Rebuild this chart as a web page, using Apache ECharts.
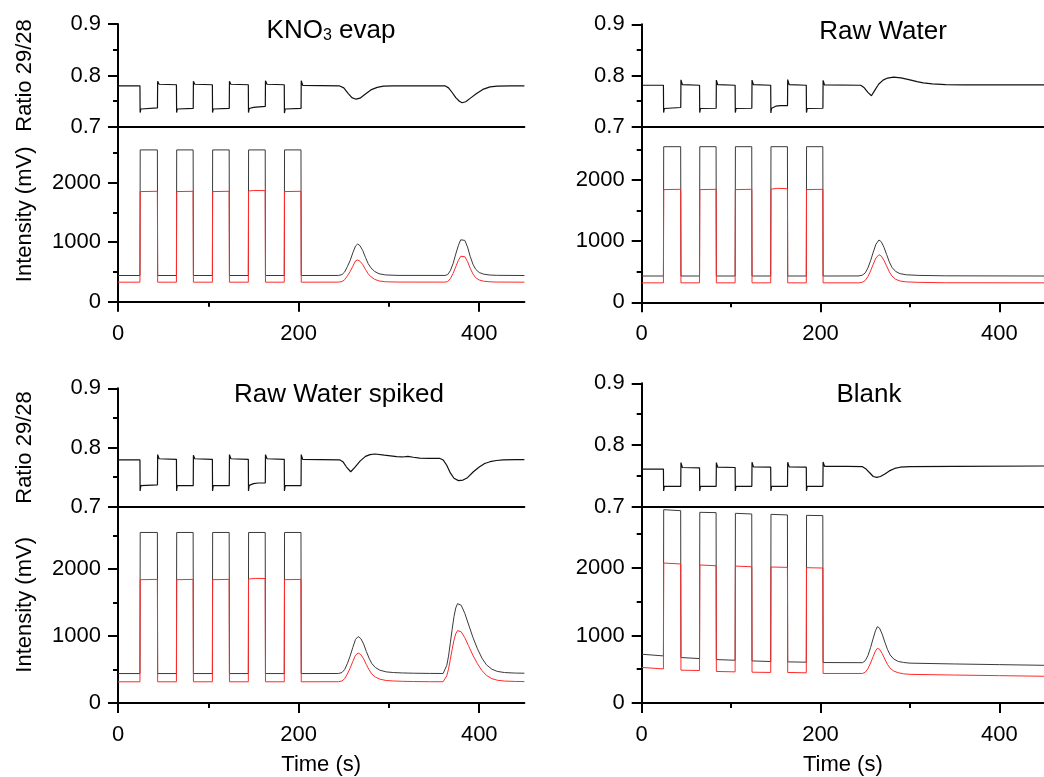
<!DOCTYPE html>
<html>
<head>
<meta charset="utf-8">
<script src="https://cdn.jsdelivr.net/npm/echarts@6/dist/echarts.min.js"></script>
<style>
html, body { margin: 0; padding: 0; background: #fff; }
#chart { width: 1044px; height: 777px; }
</style>
</head>
<body>
<div id="chart"></div>
<script>
// ---- tick values ----
const timeTicks = [0, 200, 400];
const timeMinor = [100, 300];
const ratioTicks = [0.7, 0.8, 0.9];
const ratioMinor = [0.75, 0.85];
const intTicks = [0, 1000, 2000];
const intMinor = [500, 1500, 2500];

// ---- KNO3 evap ----
const knoRatio = [
  [0,0.780],[24.3,0.780],[24.5,0.728],[25.3,0.735],[43.7,0.737],[43.9,0.789],[45.5,0.783],
  [64.7,0.782],[64.9,0.728],[65.7,0.735],[83.3,0.736],[83.5,0.789],[85,0.783],
  [104.5,0.782],[104.7,0.728],[105.5,0.735],[123.2,0.736],[123.4,0.789],[125,0.783],
  [144.3,0.782],[144.5,0.728],[145.3,0.736],[150,0.738],[163.1,0.740],[163.3,0.790],[165,0.783],
  [184.1,0.782],[184.3,0.727],[185.1,0.735],[202.7,0.736],[202.9,0.790],[204.5,0.781],
  [245,0.780],[250,0.776],[255,0.765],[259,0.757],[263.5,0.754],[268,0.756],[274,0.764],
  [280,0.772],[287,0.777],[294,0.7795],[305,0.780],[362,0.780],[366,0.776],[370,0.767],
  [374,0.757],[378,0.750],[381,0.747],[385,0.749],[391,0.757],[397,0.765],[404,0.773],
  [412,0.778],[420,0.7795],[435,0.780],[450,0.780]
];
const knoI28 = [
  [0,440],[24.3,440],[24.6,2550],[43.6,2550],[43.9,440],
  [64.7,440],[65,2550],[83.2,2550],[83.5,440],
  [104.5,440],[104.8,2550],[123.1,2550],[123.4,440],
  [144.3,440],[144.6,2550],[163,2550],[163.3,440],
  [184.1,440],[184.4,2550],[202.6,2550],[202.9,440],
  [244,441],[248,455],[251,500],[254,590],[257,690],[260,820],[263,935],[265.4,970],[268,940],
  [271,860],[274,745],[277,640],[280,570],[284,510],[289,470],[296,450],[310,442],
  [362,441],[365,455],[368,520],[371,640],[374,800],[377,950],[379.5,1040],[381,1062],[384,1030],
  [387,920],[390,760],[393,630],[396,545],[400,490],[405,462],[412,448],[420,443],[450,440]
];
const knoI29 = [
  [0,328],[24.3,328],[24.6,1850],[26,1855],[43.6,1855],[43.9,328],
  [64.7,328],[65,1850],[66.4,1855],[83.2,1855],[83.5,328],
  [104.5,328],[104.8,1850],[106.2,1855],[123.1,1855],[123.4,328],
  [144.3,328],[144.6,1860],[150,1868],[163,1866],[163.3,328],
  [184.1,328],[184.4,1850],[185.8,1855],[202.6,1855],[202.9,328],
  [244,329],[248,338],[251,370],[254,434],[257,504],[260,595],[263,686],[265.4,701],[268,680],
  [271,624],[274,543],[277,469],[280,420],[284,377],[289,349],[296,335],[310,330],
  [362,329],[365,339],[368,386],[371,473],[374,589],[377,698],[379.5,763],[381,780],[384,757],
  [387,677],[390,561],[393,466],[396,404],[400,364],[405,344],[412,334],[420,330],[450,328]
];

// ---- Raw Water ----
const rawRatio = [
  [0,0.781],[24.3,0.781],[24.5,0.7275],[25.3,0.7355],[43.7,0.7375],[43.9,0.7915],[45.5,0.782],
  [64.7,0.781],[64.9,0.7275],[65.7,0.7355],[83.3,0.736],[83.5,0.791],[85,0.782],
  [104.5,0.781],[104.7,0.7275],[105.5,0.7355],[123.2,0.736],[123.4,0.791],[125,0.782],
  [144.3,0.781],[144.5,0.727],[145.3,0.736],[150,0.740],[155,0.741],[163.1,0.741],[163.3,0.792],[165,0.782],
  [184.1,0.781],[184.3,0.7275],[185.1,0.7355],[202.7,0.736],[202.9,0.7905],[204.5,0.7815],
  [245,0.781],[249,0.776],[253,0.767],[257,0.7605],[261,0.772],[265,0.783],[270,0.791],
  [275,0.795],[281.8,0.797],[290,0.7955],[300,0.7915],[308,0.788],[315,0.7855],[325,0.7835],
  [340,0.782],[360,0.7815],[450,0.7815]
];
const rawI28 = [
  [0,430],[24.3,430],[24.6,2545],[43.6,2545],[43.9,430],
  [64.7,430],[65,2545],[83.2,2545],[83.5,430],
  [104.5,430],[104.8,2545],[123.1,2545],[123.4,430],
  [144.3,430],[144.6,2545],[163,2545],[163.3,430],
  [184.1,430],[184.4,2545],[202.6,2545],[202.9,430],
  [243,431],[247,445],[250,480],[253,560],[256,680],[259,820],[262,950],[265.4,1019],[268,990],
  [271,900],[274,780],[277,660],[280,570],[284,505],[289,468],[296,450],[310,440],[340,433],[450,430]
];
const rawI29 = [
  [0,318],[24.3,318],[24.6,1843],[26,1848],[43.6,1848],[43.9,318],
  [64.7,318],[65,1843],[66.4,1848],[83.2,1848],[83.5,318],
  [104.5,318],[104.8,1843],[106.2,1848],[123.1,1848],[123.4,318],
  [144.3,318],[144.6,1850],[152,1864],[163,1858],[163.3,318],
  [184.1,318],[184.4,1843],[185.8,1848],[202.6,1848],[202.9,318],
  [243,318],[247,329],[250,356],[253,419],[256,513],[259,622],[262,724],[265.4,779],[268,756],
  [271,686],[274,592],[277,498],[280,428],[284,377],[289,348],[296,334],[310,326],[340,320],[450,318]
];

// ---- Raw Water spiked ----
const spkRatio = [
  [0,0.779],[24.3,0.779],[24.5,0.7265],[25.3,0.7355],[43.7,0.737],[43.9,0.788],[45.5,0.781],
  [64.7,0.780],[64.9,0.7265],[65.7,0.7355],[83.3,0.7355],[83.5,0.787],[85,0.781],
  [104.5,0.780],[104.7,0.7265],[105.5,0.7355],[123.2,0.7355],[123.4,0.788],[125,0.781],
  [144.3,0.780],[144.5,0.7265],[145.3,0.736],[150,0.739],[155,0.740],[163.1,0.740],[163.3,0.788],[165,0.781],
  [184.1,0.780],[184.3,0.7265],[185.1,0.7355],[202.7,0.7355],[202.9,0.788],[204.5,0.780],
  [245.8,0.779],[249,0.776],[253,0.767],[257.7,0.759],[262,0.766],[268,0.777],[274,0.785],
  [279,0.788],[284.6,0.789],[295,0.787],[308.6,0.7845],[315,0.784],[321,0.785],[327,0.7835],
  [334,0.782],[345,0.7815],[356.6,0.7815],[360,0.779],[364,0.770],[368,0.757],[372,0.748],
  [377,0.744],[382,0.745],[387,0.749],[393.5,0.759],[400,0.767],[406,0.773],[412,0.776],
  [419,0.778],[426.5,0.779],[440,0.7795],[450,0.7795]
];
const spkI28 = [
  [0,440],[24.3,440],[24.6,2548],[43.6,2548],[43.9,440],
  [64.7,440],[65,2548],[83.2,2548],[83.5,440],
  [104.5,440],[104.8,2548],[123.1,2548],[123.4,440],
  [144.3,440],[144.6,2548],[163,2548],[163.3,440],
  [184.1,440],[184.4,2548],[202.6,2548],[202.9,440],
  [244,441],[248,455],[251,500],[254,590],[257,700],[260,830],[263,950],[266,993],[269,960],
  [272,880],[275,770],[278,670],[281,590],[285,530],[290,490],[297,465],[305,455],[315,449],
  [327,445],[345,442],[360,441],[362,470],[364,560],[366,700],[368,900],[370,1100],[372,1290],
  [374,1420],[376,1485],[377.5,1492],[380,1460],[384,1340],[388,1180],[393,980],[398,810],
  [403,670],[408,570],[414,505],[420,472],[428,455],[440,447],[450,445]
];
const spkI29 = [
  [0,317],[24.3,317],[24.6,1842],[26,1847],[43.6,1847],[43.9,317],
  [64.7,317],[65,1842],[66.4,1847],[83.2,1847],[83.5,317],
  [104.5,317],[104.8,1842],[106.2,1847],[123.1,1847],[123.4,317],
  [144.3,317],[144.6,1852],[152,1862],[163,1860],[163.3,317],
  [184.1,317],[184.4,1842],[185.8,1847],[202.6,1847],[202.9,317],
  [244,318],[248,329],[251,364],[254,434],[257,520],[260,621],[263,714],[266,747],[269,722],
  [272,659],[275,574],[278,496],[281,434],[285,387],[290,356],[297,336],[305,329],[315,324],
  [327,321],[345,318],[360,318],[362,339],[364,405],[366,507],[368,654],[370,800],[372,939],
  [374,1034],[376,1082],[377.5,1087],[380,1064],[384,976],[388,859],[393,712],[398,587],
  [403,485],[408,412],[414,364],[420,340],[428,328],[440,322],[450,320]
];

// ---- Blank ----
const blkRatio = [
  [0,0.761],[24.3,0.761],[24.5,0.7255],[25.3,0.733],[43.7,0.733],[43.9,0.7715],[45.5,0.7635],
  [64.7,0.763],[64.9,0.7255],[65.7,0.733],[83.3,0.733],[83.5,0.7715],[85,0.764],
  [104.5,0.7635],[104.7,0.7255],[105.5,0.733],[123.2,0.733],[123.4,0.772],[125,0.7645],
  [144.3,0.764],[144.5,0.7255],[145.3,0.733],[163.1,0.733],[163.3,0.772],[165,0.7645],
  [184.1,0.764],[184.3,0.7255],[185.1,0.733],[202.7,0.733],[202.9,0.7725],[204.5,0.7655],
  [230,0.7655],[247,0.7648],[251,0.761],[255,0.755],[259,0.749],[263,0.7476],[267,0.749],
  [272,0.753],[277,0.758],[283,0.762],[289,0.764],[300,0.765],[350,0.7655],[450,0.766]
];
const blkI28 = [
  [0,722],[24.3,697],[24.6,2862],[43.6,2847],[43.9,673],
  [64.7,658],[65,2823],[83.2,2818],[83.5,643],
  [104.5,633],[104.8,2808],[123.1,2798],[123.4,623],
  [144.3,614],[144.6,2793],[163,2784],[163.3,609],
  [184.1,604],[184.4,2778],[202.6,2774],[202.9,599],
  [247,597],[250,625],[253,700],[256,820],[259,960],[261.5,1070],[263.6,1130],[266,1110],
  [269,1020],[272,900],[275,790],[278,710],[282,650],[287,615],[293,600],[300,590],
  [350,578],[400,568],[450,558]
];
const blkI29 = [
  [0,526],[24.3,505],[24.6,2072],[43.6,2058],[43.9,486],
  [64.7,481],[65,2043],[83.2,2032],[83.5,467],
  [104.5,461],[104.8,2027],[123.1,2017],[123.4,456],
  [144.3,452],[144.6,2013],[163,2008],[163.3,452],
  [184.1,447],[184.4,2003],[202.6,1998],[202.9,437],
  [247,437],[250,455],[253,507],[256,592],[259,690],[261.5,768],[263.6,810],[266,796],
  [269,733],[272,648],[275,570],[278,514],[282,472],[287,448],[293,432],[300,424],
  [350,414],[400,405],[450,396]
];

const FONT = '"Liberation Sans", Arial, sans-serif';

const panels = [
  { title: 'KNO{sub|3} evap', tx: 331, ty: 31, left: 118, width: 406.4, top: 24, rH: 103, iH: 174.7, iMax: 2935,
    ratio: knoRatio, i28: knoI28, i29: knoI29, yNames: true, xName: '' },
  { title: 'Raw Water', tx: 883, ty: 32, left: 641.7, width: 412.5, top: 24.3, rH: 102.4, iH: 175.6, iMax: 2872,
    ratio: rawRatio, i28: rawI28, i29: rawI29, yNames: false, xName: '' },
  { title: 'Raw Water spiked', tx: 339, ty: 395, left: 118, width: 406.4, top: 388.3, rH: 118.4, iH: 198, iMax: 2933,
    ratio: spkRatio, i28: spkI28, i29: spkI29, yNames: true, xName: 'Time (s)' },
  { title: 'Blank', tx: 869, ty: 395, left: 641.7, width: 412.5, top: 383.3, rH: 123.4, iH: 197.3, iMax: 2906,
    ratio: blkRatio, i28: blkI28, i29: blkI29, yNames: false, xName: 'Time (s)' }
];

const labelStyle = { color: '#000', fontSize: 22, fontFamily: FONT };
const nameStyle = { color: '#000', fontSize: 22, fontFamily: FONT };
const axisLine = { onZero: false, lineStyle: { color: '#000', width: 2 } };
const tickLine = { color: '#000', width: 2 };

const option = {
  animation: false,
  backgroundColor: '#fff',
  grid: [], xAxis: [], yAxis: [], series: [], graphic: []
};

panels.forEach(p => {
  const gR = option.grid.length;
  const gI = gR + 1;
  option.grid.push({ left: p.left, top: p.top, width: p.width, height: p.rH });
  option.grid.push({ left: p.left, top: p.top + p.rH, width: p.width, height: p.iH });

  // x axes: the ratio panel only shows the 0.7 line
  const xR = option.xAxis.length;
  option.xAxis.push({
    gridIndex: gR, type: 'value', min: 0, max: 450, position: 'bottom',
    axisLine: axisLine, axisTick: { show: false }, axisLabel: { show: false }, splitLine: { show: false }
  });
  const xI = option.xAxis.length;
  option.xAxis.push({
    gridIndex: gI, type: 'value', min: 0, max: 450, position: 'bottom',
    name: p.xName, nameLocation: 'middle', nameGap: 51, nameTextStyle: nameStyle,
    axisLine: axisLine,
    axisTick: { customValues: timeTicks, length: 10, lineStyle: tickLine },
    axisLabel: Object.assign({ customValues: timeTicks, margin: 21, formatter: v => String(v) }, labelStyle),
    splitLine: { show: false }
  });
  // minor ticks
  option.xAxis.push({
    gridIndex: gI, type: 'value', min: 0, max: 450, position: 'bottom',
    axisLine: { show: false },
    axisTick: { customValues: timeMinor, length: 5, lineStyle: tickLine },
    axisLabel: { show: false }, splitLine: { show: false }
  });

  // y axes
  const yR = option.yAxis.length;
  option.yAxis.push({
    gridIndex: gR, type: 'value', min: 0.7, max: 0.9, position: 'left',
    name: p.yNames ? 'Ratio 29/28' : '', nameLocation: 'middle', nameGap: 82, nameTextStyle: nameStyle,
    axisLine: axisLine,
    axisTick: { customValues: ratioTicks, length: 10, lineStyle: tickLine },
    axisLabel: Object.assign({ customValues: ratioTicks, margin: 17, formatter: v => v.toFixed(1) }, labelStyle),
    splitLine: { show: false }
  });
  option.yAxis.push({
    gridIndex: gR, type: 'value', min: 0.7, max: 0.9, position: 'left',
    axisLine: { show: false },
    axisTick: { customValues: ratioMinor, length: 5, lineStyle: tickLine },
    axisLabel: { show: false }, splitLine: { show: false }
  });
  const yI = option.yAxis.length;
  option.yAxis.push({
    gridIndex: gI, type: 'value', min: 0, max: p.iMax, position: 'left',
    name: p.yNames ? 'Intensity (mV)' : '', nameLocation: 'middle', nameGap: 82, nameTextStyle: nameStyle,
    axisLine: axisLine,
    axisTick: { customValues: intTicks, length: 10, lineStyle: tickLine },
    axisLabel: Object.assign({ customValues: intTicks, margin: 17, formatter: v => String(v) }, labelStyle),
    splitLine: { show: false }
  });
  option.yAxis.push({
    gridIndex: gI, type: 'value', min: 0, max: p.iMax, position: 'left',
    axisLine: { show: false },
    axisTick: { customValues: intMinor, length: 5, lineStyle: tickLine },
    axisLabel: { show: false }, splitLine: { show: false }
  });

  const base = { type: 'line', symbol: 'none', silent: true, clip: true };
  option.series.push(Object.assign({}, base, {
    xAxisIndex: xR, yAxisIndex: yR, data: p.ratio, lineStyle: { color: '#111', width: 1.2 }
  }));
  option.series.push(Object.assign({}, base, {
    xAxisIndex: xI, yAxisIndex: yI, data: p.i28, lineStyle: { color: '#3a3a3a', width: 1 }
  }));
  option.series.push(Object.assign({}, base, {
    xAxisIndex: xI, yAxisIndex: yI, data: p.i29, lineStyle: { color: '#ff2a2a', width: 1 }
  }));

  option.graphic.push({
    type: 'text', x: p.tx, y: p.ty, silent: true,
    style: {
      text: p.title, fill: '#000', font: '26px ' + FONT,
      align: 'center', verticalAlign: 'middle',
      rich: { sub: { fontSize: 16, fontFamily: FONT, verticalAlign: 'bottom', lineHeight: 16 } }
    }
  });
});

const chart = echarts.init(document.getElementById('chart'), null, { renderer: 'canvas' });
chart.setOption(option);
</script>
</body>
</html>
